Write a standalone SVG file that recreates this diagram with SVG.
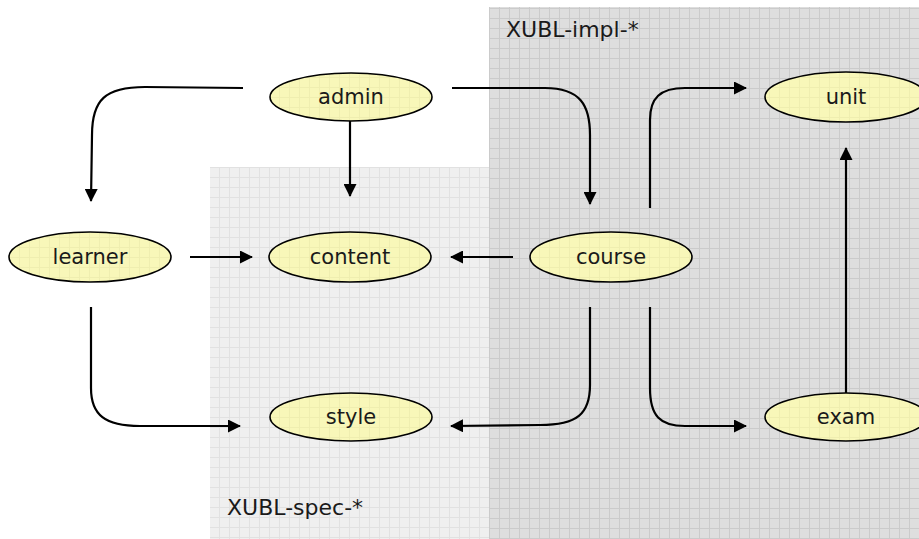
<svg xmlns="http://www.w3.org/2000/svg" width="919" height="539" viewBox="0 0 919 539">
  <style>
    .node { stroke: #000; stroke-width: 1.6; fill: url(#yellowGrid); }
    .label { font-family: "DejaVu Sans", Verdana, sans-serif; font-size: 21px; fill: #1a1a1a; text-anchor: middle; }
    .area { font-family: "DejaVu Sans", Verdana, sans-serif; font-size: 22px; fill: #1a1a1a; }
    .edge { fill: none; stroke: #000; stroke-width: 2.2; marker-end: url(#arrow); }
  </style>
  <defs>
    <pattern id="specGrid" patternUnits="userSpaceOnUse" x="0" y="0" width="10" height="10">
      <rect width="10" height="10" fill="#efefef"/>
      <path d="M9.5,0 V10 M0,7.5 H10" stroke="#e1e1e1" stroke-width="1"/>
    </pattern>
    <pattern id="implGrid" patternUnits="userSpaceOnUse" x="0" y="0" width="10" height="10">
      <rect width="10" height="10" fill="#dedede"/>
      <path d="M9.5,0 V10 M0,8.5 H10" stroke="#cbcbcb" stroke-width="1"/>
    </pattern>
    <pattern id="yellowGrid" patternUnits="userSpaceOnUse" x="0" y="0" width="10" height="10">
      <rect width="10" height="10" fill="#f8f7b9"/>
      <path d="M9.5,0 V10 M0,7.5 H10" stroke="#efeeb0" stroke-width="1"/>
    </pattern>
    <marker id="arrow" markerUnits="userSpaceOnUse" markerWidth="14" markerHeight="13" refX="12" refY="6.5" orient="auto">
      <path d="M0,0 L13,6.5 L0,13 z" fill="#000"/>
    </marker>
  </defs>

  <!-- package areas -->
  <g id="area-spec">
    <rect x="210" y="167" width="279" height="372" fill="url(#specGrid)"/>
    <text class="area" x="227" y="515">XUBL-spec-*</text>
  </g>
  <g id="area-impl">
    <rect x="489" y="7" width="430" height="532" fill="url(#implGrid)"/>
    <text class="area" x="506" y="37">XUBL-impl-*</text>
  </g>

  <!-- dependencies -->
  <g id="connectors">
    <path class="edge" d="M243,88 L145,87 C105,87 92,100 92,135 L91,201"/>
    <path class="edge" d="M350,120 L350,196"/>
    <path class="edge" d="M452,88 L545,88 C580,88 590,105 590,135 L590,204"/>
    <path class="edge" d="M650,208 L650,120 C650,98 660,88 685,88 L746,88"/>
    <path class="edge" d="M190,257 L252,257"/>
    <path class="edge" d="M513,257 L451,257"/>
    <path class="edge" d="M91,307 L91,388 C91,415 105,426 140,426 L240,426"/>
    <path class="edge" d="M590,307 L590,385 C590,414 577,425 540,425 L451,426"/>
    <path class="edge" d="M650,307 L650,388 C650,416 660,426 685,426 L746,426"/>
    <path class="edge" d="M846,393 L846,148"/>
  </g>

  <!-- packages -->
  <g id="admin">
    <ellipse class="node" cx="351" cy="97" rx="81" ry="24"/>
    <text class="label" x="351" y="104">admin</text>
  </g>
  <g id="learner">
    <ellipse class="node" cx="90" cy="257" rx="81" ry="25"/>
    <text class="label" x="90" y="264">learner</text>
  </g>
  <g id="content">
    <ellipse class="node" cx="350" cy="257" rx="81" ry="25"/>
    <text class="label" x="350" y="264">content</text>
  </g>
  <g id="course">
    <ellipse class="node" cx="611" cy="257" rx="81" ry="25"/>
    <text class="label" x="611" y="264">course</text>
  </g>
  <g id="unit">
    <ellipse class="node" cx="846" cy="97" rx="81" ry="25"/>
    <text class="label" x="846" y="104">unit</text>
  </g>
  <g id="style">
    <ellipse class="node" cx="351" cy="417" rx="81" ry="24"/>
    <text class="label" x="351" y="424">style</text>
  </g>
  <g id="exam">
    <ellipse class="node" cx="846" cy="417" rx="81" ry="24"/>
    <text class="label" x="846" y="424">exam</text>
  </g>
</svg>
